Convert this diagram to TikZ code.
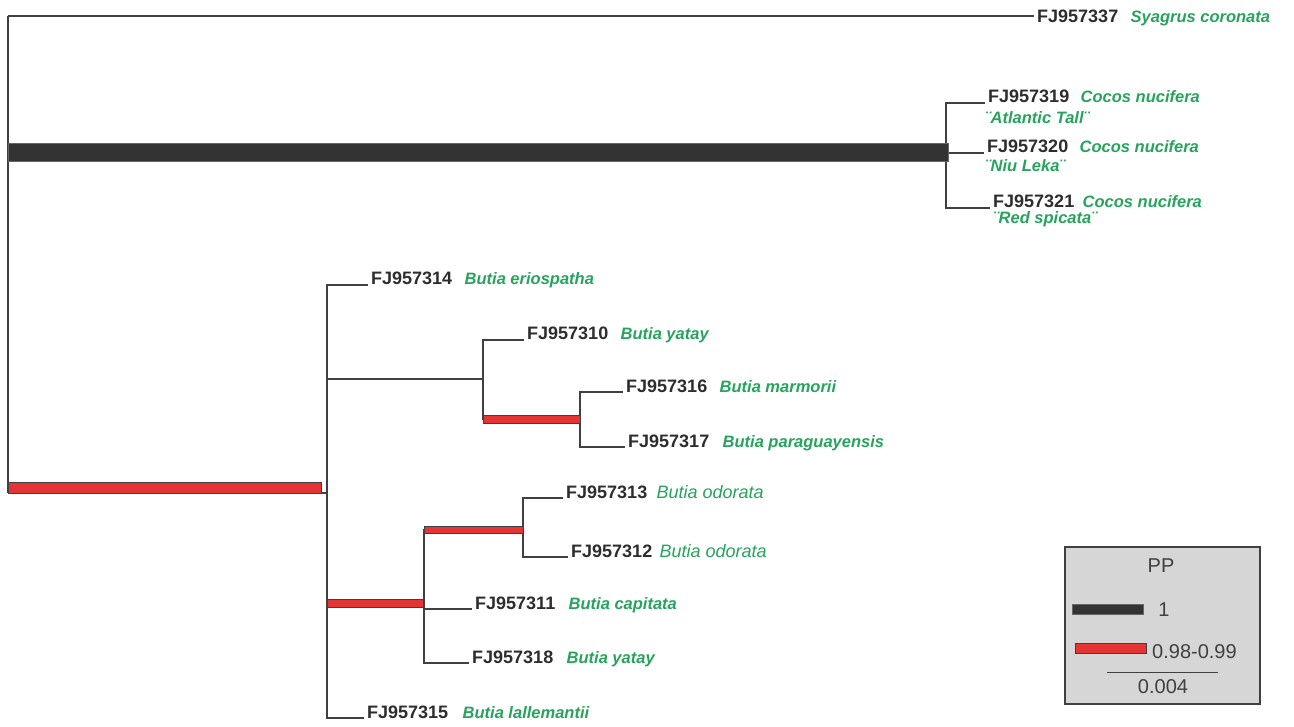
\documentclass[tikz,border=0pt]{standalone}
\usepackage{fontspec}
\setmainfont{Liberation Sans}
\usetikzlibrary{positioning}
\definecolor{vertnom}{RGB}{38,163,92}
\definecolor{rougepp}{RGB}{229,52,52}
\definecolor{grisfonce}{RGB}{64,64,64}
\definecolor{noirpp}{RGB}{51,51,51}
\definecolor{grisboite}{RGB}{214,214,214}
\definecolor{textecode}{RGB}{45,45,45}

\begin{document}
\begin{tikzpicture}[x=1pt, y=-1pt]

  % Styles des branches et des textes
  \tikzstyle{branche} = [draw=grisfonce, line width=1.3pt]
  \tikzstyle{barrerouge} = [fill=rougepp, draw=grisfonce, line width=0.8pt]
  \tikzstyle{barrenoire} = [fill=noirpp, draw=grisfonce!80, line width=0.8pt]
  \tikzstyle{code} = [anchor=base west, inner sep=0pt, inner xsep=3pt, text=textecode, font=\fontsize{18}{20}\selectfont\bfseries]
  \tikzstyle{espece} = [inner sep=0pt, text=vertnom, font=\fontsize{16.5}{18}\selectfont\bfseries\itshape]
  \tikzstyle{odorata} = [inner sep=0pt, text=vertnom, font=\fontsize{18}{20}\selectfont\itshape]
  \tikzstyle{legende} = [text=grisfonce, font=\fontsize{20}{22}\selectfont]

  \useasboundingbox (0,0) rectangle (1294,727);

  % Noeuds internes
  \coordinate (racine) at (8,16);
  \coordinate (rbut) at (8,493);
  \coordinate (coco) at (946,152);
  \coordinate (butia) at (327,493);
  \coordinate (bsup) at (483,379);
  \coordinate (bmar) at (580,419);
  \coordinate (binf) at (424,603);
  \coordinate (bodo) at (523,530);

  % Feuilles
  \node[code, anchor=west] (s337) at (1034,16) {FJ957337};
  \node[espece, right=9pt of s337.base east, anchor=base west] (n337) {Syagrus coronata};

  \node[code] (c319) at (985,103) {FJ957319};
  \node[espece, right=8pt of c319.base east, anchor=base west] (n319) {Cocos nucifera};
  \node[espece, anchor=base west] (v319) at (985,124) {¨Atlantic Tall¨};
  \node[code] (c320) at (984,153) {FJ957320};
  \node[espece, right=8pt of c320.base east, anchor=base west] (n320) {Cocos nucifera};
  \node[espece, anchor=base west] (v320) at (985,172) {¨Niu Leka¨};
  \node[code] (c321) at (990,208) {FJ957321};
  \node[espece, right=5pt of c321.base east, anchor=base west] (n321) {Cocos nucifera};
  \node[espece, anchor=base west] (v321) at (993,224) {¨Red spicata¨};

  \node[code] (c314) at (368,285) {FJ957314};
  \node[espece, right=9pt of c314.base east, anchor=base west] (n314) {Butia eriospatha};
  \node[code] (c310) at (524,340) {FJ957310};
  \node[espece, right=9pt of c310.base east, anchor=base west] (n310) {Butia yatay};
  \node[code] (c316) at (623,392) {FJ957316};
  \node[espece, right=9pt of c316.base east, anchor=base west] (n316) {Butia marmorii};
  \node[code] (c317) at (625,447) {FJ957317};
  \node[espece, right=10pt of c317.base east, anchor=base west] (n317) {Butia paraguayensis};
  \node[code] (c313) at (563,498) {FJ957313};
  \node[odorata, right=6pt of c313.base east, anchor=base west] (n313) {Butia odorata};
  \node[code] (c312) at (568,557) {FJ957312};
  \node[odorata, right=4pt of c312.base east, anchor=base west] (n312) {Butia odorata};
  \node[code] (c311) at (472,609) {FJ957311};
  \node[espece, right=10pt of c311.base east, anchor=base west] (n311) {Butia capitata};
  \node[code] (c318) at (469,663) {FJ957318};
  \node[espece, right=10pt of c318.base east, anchor=base west] (n318) {Butia yatay};
  \node[code] (c315) at (364,718) {FJ957315};
  \node[espece, right=11pt of c315.base east, anchor=base west] (n315) {Butia lallemantii};

  % Branches
  \draw[branche] (racine) -- (rbut);
  \draw[branche] (racine) -- (s337.west);
  \draw[branche] (coco) |- (c319.base west);
  \draw[branche] (coco) |- (c320.base west);
  \draw[branche] (coco) |- (c321.base west);
  \draw[branche] (rbut) -- (butia);
  \draw[branche] (butia) |- (c314.base west);
  \draw[branche] (butia) |- (c315.base west);
  \draw[branche] (butia) |- (bsup);
  \draw[branche] (butia) |- (binf);
  \draw[branche] (bsup) |- (c310.base west);
  \draw[branche] (bsup) |- (bmar);
  \draw[branche] (bmar) |- (c316.base west);
  \draw[branche] (bmar) |- (c317.base west);
  \draw[branche] (binf) |- (bodo);
  \draw[branche] (binf) |- (c311.base west);
  \draw[branche] (binf) |- (c318.base west);
  \draw[branche] (bodo) |- (c313.base west);
  \draw[branche] (bodo) |- (c312.base west);

  % Barres PP
  \filldraw[barrenoire] (8,143) rectangle (948,161);
  \filldraw[barrerouge] (8,482) rectangle (321,493);
  \filldraw[barrerouge] (483,415) rectangle (580,423);
  \filldraw[barrerouge] (327,599) rectangle (423,607);
  \filldraw[barrerouge] (424,526) rectangle (523,533);

  % Legende
  \filldraw[fill=grisboite, draw=grisfonce, line width=1.2pt] (1065,547) rectangle (1260,704);
  \node[legende] (pp) at (1161,566) {PP};
  \filldraw[barrenoire] (1072,604) rectangle (1143,614);
  \node[legende] (un) at (1164,610) {1};
  \filldraw[barrerouge] (1075,643) rectangle (1146,653);
  \node[legende, anchor=west, inner sep=0pt] (seuil) at (1152,652) {0.98-0.99};
  \draw[branche, line width=1pt] (1107,672) -- (1218,672);
  \node[legende] (echelle) at (1163,687) {0.004};

\end{tikzpicture}
\end{document}
